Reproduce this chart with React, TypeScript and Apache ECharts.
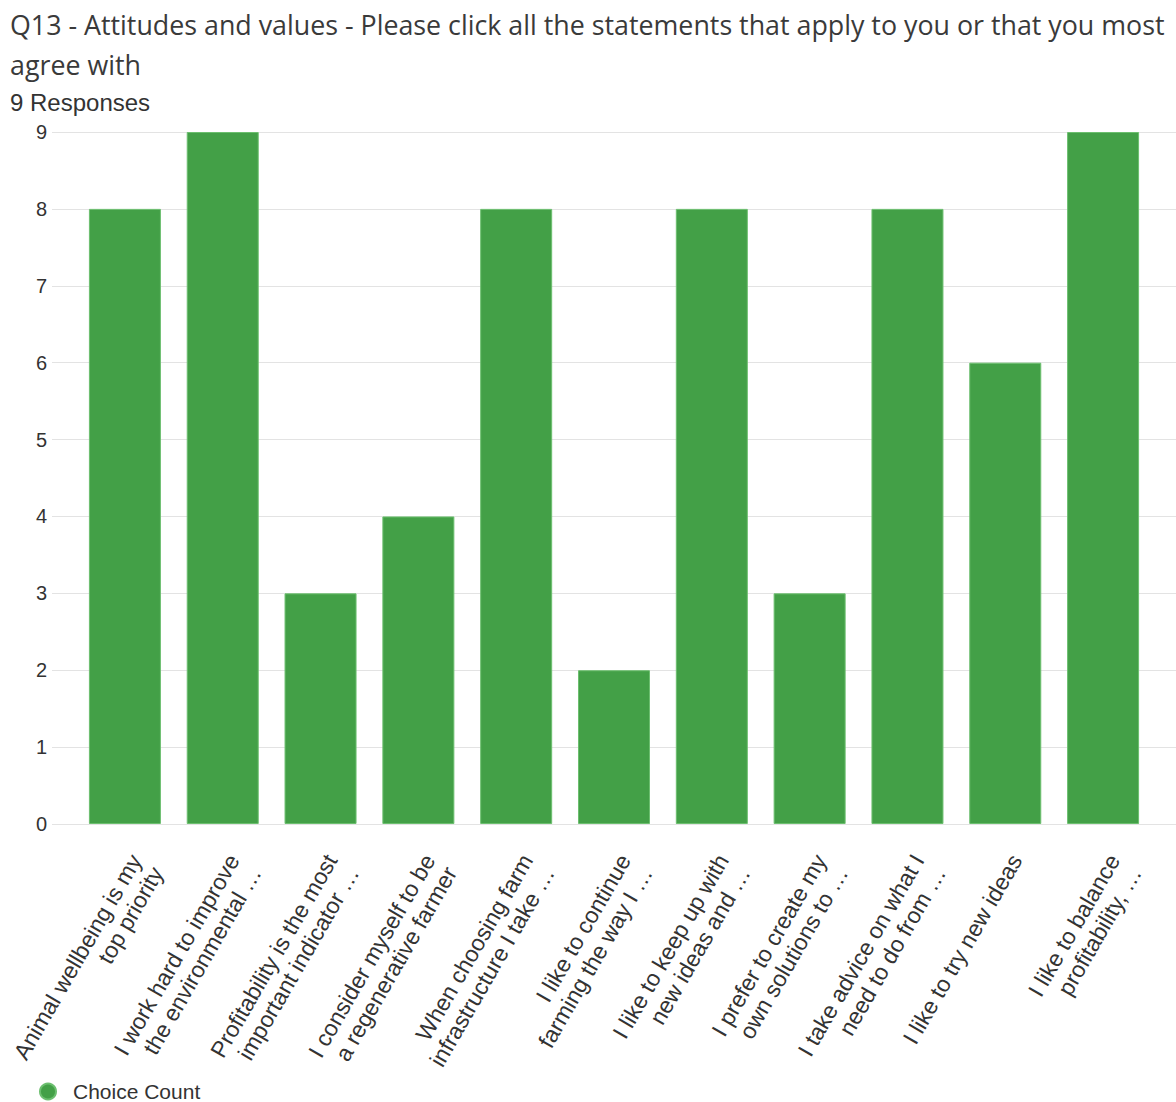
import React, { useEffect, useRef } from "react";
import * as echarts from "echarts";

const titleText =
  "Q13 - Attitudes and values - Please click all the statements that apply to you or that you most\nagree with";
const subtitleText = "9 Responses";
const seriesName = "Choice Count";

const categories = [
  "Animal wellbeing is my\ntop priority",
  "I work hard to improve\nthe environmental …",
  "Profitability is the most\nimportant indicator …",
  "I consider myself to be\na regenerative farmer",
  "When choosing farm\ninfrastructure I take …",
  "I like to continue\nfarming the way I …",
  "I like to keep up with\nnew ideas and …",
  "I prefer to create my\nown solutions to …",
  "I take advice on what I\nneed to do from …",
  "I like to try new ideas",
  "I like to balance\nprofitability, …",
];

const choiceCounts = [8, 9, 3, 4, 8, 2, 8, 3, 8, 6, 9];

const yMin = 0;
const yMax = 9;
const yInterval = 1;

const GREEN = "#43a047";
const TEXT = "#333333";
const GRID = "#e3e3e3";

export default function App() {
  const ref = useRef<HTMLDivElement>(null);

  useEffect(() => {
    if (!ref.current) return;
    const chart = echarts.init(ref.current, undefined, { renderer: "svg" });
    const option: any = {
      animation: false,
      backgroundColor: "#ffffff",
      title: [
        {
          text: titleText,
          left: 5,
          top: -1,
          textStyle: {
            fontFamily: "'Open Sans', sans-serif",
            fontSize: 26.8,
            fontWeight: "normal",
            color: "#3a3a3a",
            lineHeight: 40,
          },
        },
        {
          text: subtitleText,
          left: 5,
          top: 85,
          textStyle: {
            fontFamily: "'Liberation Sans', Arial, sans-serif",
            fontSize: 24,
            fontWeight: "normal",
            color: TEXT,
          },
        },
      ],
      legend: {
        left: 39,
        top: 1081,
        padding: 0,
        icon: "circle",
        itemWidth: 16,
        itemHeight: 16,
        data: [seriesName],
        textStyle: {
          fontFamily: "'Liberation Sans', Arial, sans-serif",
          fontSize: 21,
          lineHeight: 18,
          color: TEXT,
          padding: [0, 0, 0, 12],
        },
      },
      grid: [
        { left: 52, right: 0, top: 132, bottom: 278 },
        { left: 76, right: 24, top: 132, bottom: 278 },
      ],
      xAxis: [
        { type: "value", gridIndex: 0, show: false },
        {
          type: "category",
          gridIndex: 1,
          data: categories,
          axisLine: { show: false },
          axisTick: { show: false },
          axisLabel: {
            interval: 0,
            rotate: 60,
            margin: 26,
            align: "right",
            verticalAlign: "top",
            fontFamily: "'Liberation Sans', Arial, sans-serif",
            fontSize: 23,
            lineHeight: 25,
            color: TEXT,
          },
        },
      ],
      yAxis: [
        {
          type: "value",
          gridIndex: 0,
          min: yMin,
          max: yMax,
          interval: yInterval,
          axisLine: { show: false },
          axisTick: { show: false },
          splitLine: { show: true, lineStyle: { color: GRID, width: 1 } },
          axisLabel: {
            margin: 5,
            fontFamily: "'Liberation Sans', Arial, sans-serif",
            fontSize: 20,
            color: TEXT,
          },
        },
        {
          type: "value",
          gridIndex: 1,
          min: yMin,
          max: yMax,
          interval: yInterval,
          show: false,
          splitLine: { show: false },
        },
      ],
      series: [
        {
          name: seriesName,
          type: "bar",
          xAxisIndex: 1,
          yAxisIndex: 1,
          data: choiceCounts,
          barWidth: 72,
          itemStyle: {
            color: GREEN,
            borderColor: "#6cbf6f",
            borderWidth: 1,
          },
        },
      ],
    };
    chart.setOption(option);
    return () => chart.dispose();
  }, []);

  return (
    <div
      ref={ref}
      style={{ position: "absolute", left: 0, top: 0, width: 1176, height: 1102 }}
    />
  );
}
